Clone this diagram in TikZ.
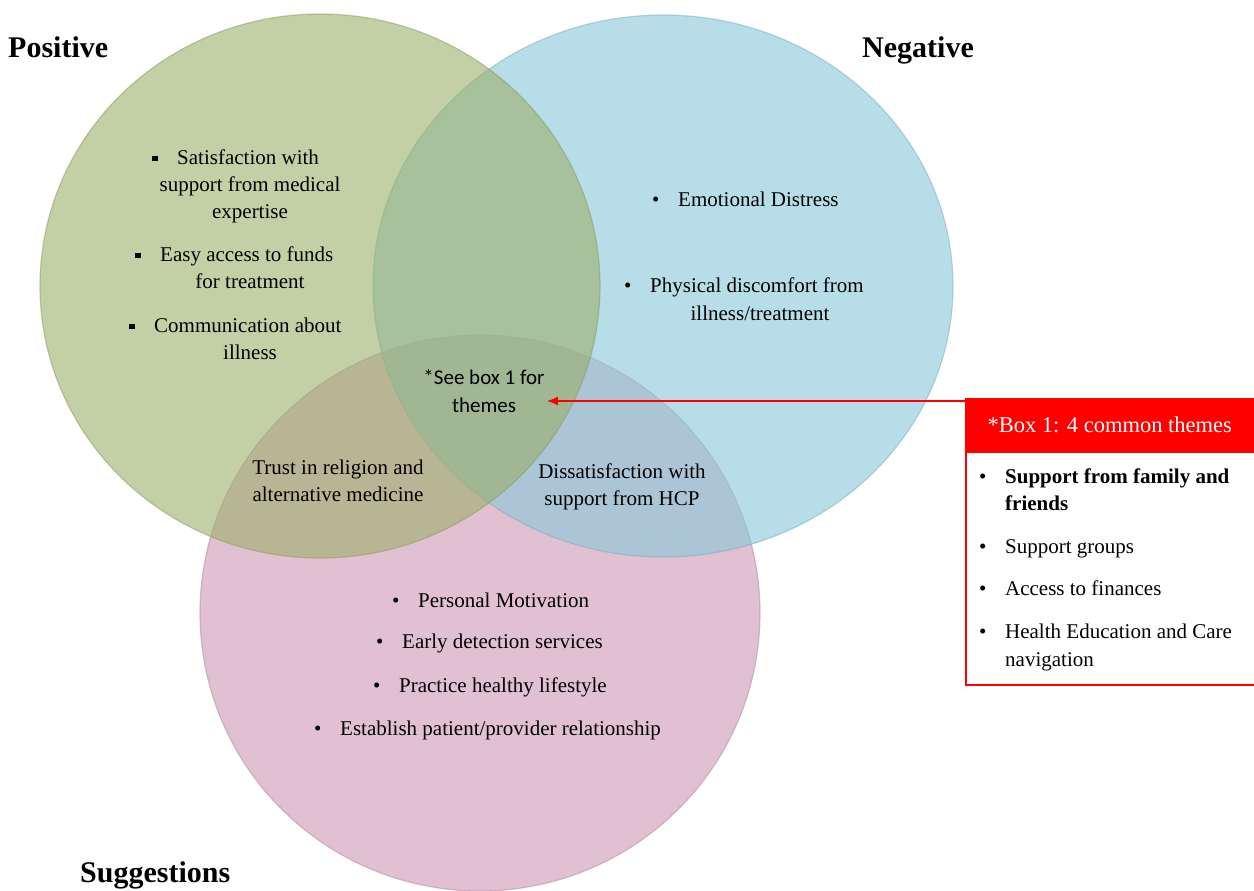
\documentclass[tikz,border=0pt]{standalone}
\usepackage{fontspec}
\setmainfont{Liberation Serif}
\newfontfamily\carlito{Carlito}
\usetikzlibrary{arrows.meta}
\definecolor{gbase}{RGB}{155,175,105}
\definecolor{bbase}{RGB}{135,200,217}
\definecolor{pbase}{RGB}{205,150,180}
\definecolor{pureRed}{RGB}{255,0,0}
\tikzset{
  venn/.style={fill opacity=0.6, draw opacity=0.45, line width=1.2pt},
  txt/.style={inner sep=0pt, font=\fontsize{21}{27}\selectfont, text=black},
  ttl/.style={inner sep=0pt, font=\fontsize{30}{34}\selectfont\bfseries, anchor=base west},
  lft/.style={txt, anchor=base west},
  ctr/.style={txt, anchor=base},
  sans/.style={inner sep=0pt, font=\fontsize{21}{27}\carlito, anchor=base},
  redarrow/.style={draw=pureRed, line width=1.3pt, -{Latex[length=11pt,width=9pt]}},
}
\newcommand{\bul}{\makebox[26pt][l]{\textbullet}}
\newcommand{\sqb}{\makebox[25pt][l]{\raisebox{3pt}{\rule{5.5pt}{5.5pt}}}}
\begin{document}
\begin{tikzpicture}[x=1pt,y=-1pt]
\useasboundingbox (0,0) rectangle (1254,891);
\fill[white] (0,0) rectangle (1254,891);
% circles
\draw[venn, fill=pbase, draw=pbase!85!black] (480,613) ellipse [x radius=280pt, y radius=278pt];
\draw[venn, fill=bbase, draw=bbase!85!black] (663,286) ellipse [x radius=290pt, y radius=271pt];
\draw[venn, fill=gbase, draw=gbase!85!black] (320,286) ellipse [x radius=280pt, y radius=272pt];
% titles
\node[ttl] (pos) at (8,58) {Positive};
\node[ttl] (neg) at (862,58) {Negative};
\node[ttl] (sug) at (80,882) {Suggestions};
% positive
\node[lft] (p1a) at (152,164) {\sqb Satisfaction with};
\node[ctr] (p1b) at (250,191) {support from medical};
\node[ctr] (p1c) at (250,218) {expertise};
\node[lft] (p2a) at (135,261) {\sqb Easy access to funds};
\node[ctr] (p2b) at (250,288) {for treatment};
\node[lft] (p3a) at (129,332) {\sqb Communication about};
\node[ctr] (p3b) at (250,359) {illness};
% negative
\node[lft] (n1) at (652,206) {\bul Emotional Distress};
\node[lft] (n2a) at (624,292) {\bul Physical discomfort from};
\node[ctr] (n2b) at (760,320) {illness/treatment};
% center
\node[sans] (see1) at (484,384) {*See box 1 for};
\node[sans] (see2) at (484,412) {themes};
\node[ctr] (tr1) at (338,474) {Trust in religion and};
\node[ctr] (tr2) at (338,501) {alternative medicine};
\node[ctr] (ds1) at (622,478) {Dissatisfaction with};
\node[ctr] (ds2) at (622,505) {support from HCP};
% suggestions
\node[lft] (s1) at (392,607) {\bul Personal Motivation};
\node[lft] (s2) at (376,648) {\bul Early detection services};
\node[lft] (s3) at (373,692) {\bul Practice healthy lifestyle};
\node[lft] (s4) at (314,735) {\bul Establish patient/provider relationship};
% box
\node[draw=pureRed, line width=1.5pt, anchor=north west, minimum width=289pt, minimum height=233pt, inner sep=0pt] (box) at (965,451) {};
\node[fill=pureRed, anchor=north west, minimum width=289pt, minimum height=53pt, inner sep=0pt, text=white, font=\fontsize{22.5}{26}\selectfont] (hdr) at (965,398) {*Box 1: 4 common themes};
\node[lft] (b1a) at (979,483) {\bul\textbf{Support from family and}};
\node[lft] (b1b) at (1005,510) {\textbf{friends}};
\node[lft] (b2) at (979,553) {\bul Support groups};
\node[lft] (b3) at (979,595) {\bul Access to finances};
\node[lft] (b4a) at (979,638) {\bul Health Education and Care};
\node[lft] (b4b) at (1005,666) {navigation};
% arrow
\coordinate (tip) at (547,401);
\draw[redarrow] ([yshift=-3pt]hdr.north west) -- (tip);
\end{tikzpicture}
\end{document}
